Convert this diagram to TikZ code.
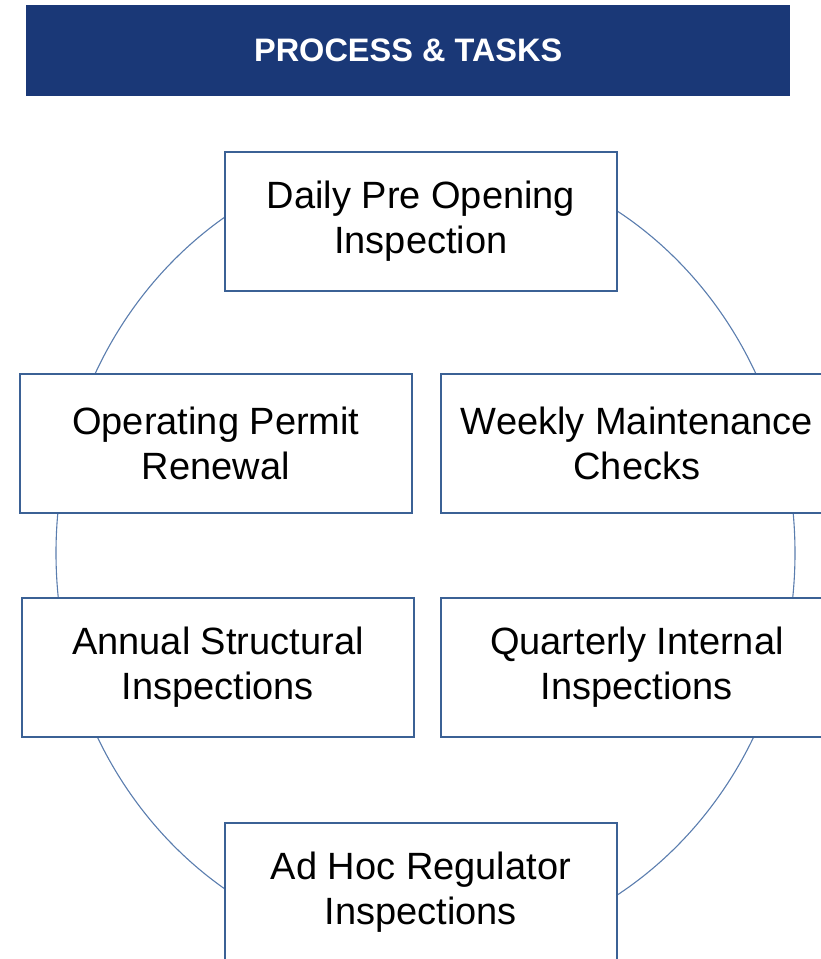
\documentclass[tikz,border=0pt]{standalone}
\usepackage{fontspec}
\setmainfont{Liberation Sans}
\definecolor{headblue}{HTML}{1A3877}
\definecolor{boxblue}{HTML}{3B6195}
\definecolor{ringblue}{HTML}{5A7DAE}
\begin{document}
\begin{tikzpicture}[x=1pt,y=-1pt,
  taskbox/.style={draw=boxblue, line width=1.8pt, fill=white, minimum width=392pt, minimum height=139pt, inner sep=0pt, align=center, font=\fontsize{38}{44.5}\selectfont, text=black, anchor=north west},
  ring/.style={draw=ringblue, line width=1.1pt}]
\useasboundingbox (0,0) rectangle (821,959);
\clip (0,0) rectangle (821,959);
\node[fill=headblue, minimum width=764pt, minimum height=91pt, inner sep=0pt, anchor=north west, text=white, font=\bfseries\fontsize{32.5}{38}\selectfont] (head) at (26,5) {PROCESS \& TASKS};
\draw[ring] (425.5,553) ellipse [x radius=369.5, y radius=400];
\node[taskbox] (daily) at (224,151) {Daily Pre Opening\\Inspection};
\node[taskbox] (permit) at (19,373) {Operating Permit\\Renewal};
\node[taskbox] (weekly) at (440,373) {Weekly Maintenance\\Checks};
\node[taskbox] (annual) at (21,597) {Annual Structural\\Inspections};
\node[taskbox] (quarter) at (440,597) {Quarterly Internal\\Inspections};
\node[taskbox] (adhoc) at (224,822) {Ad Hoc Regulator\\Inspections};
\end{tikzpicture}
\end{document}
